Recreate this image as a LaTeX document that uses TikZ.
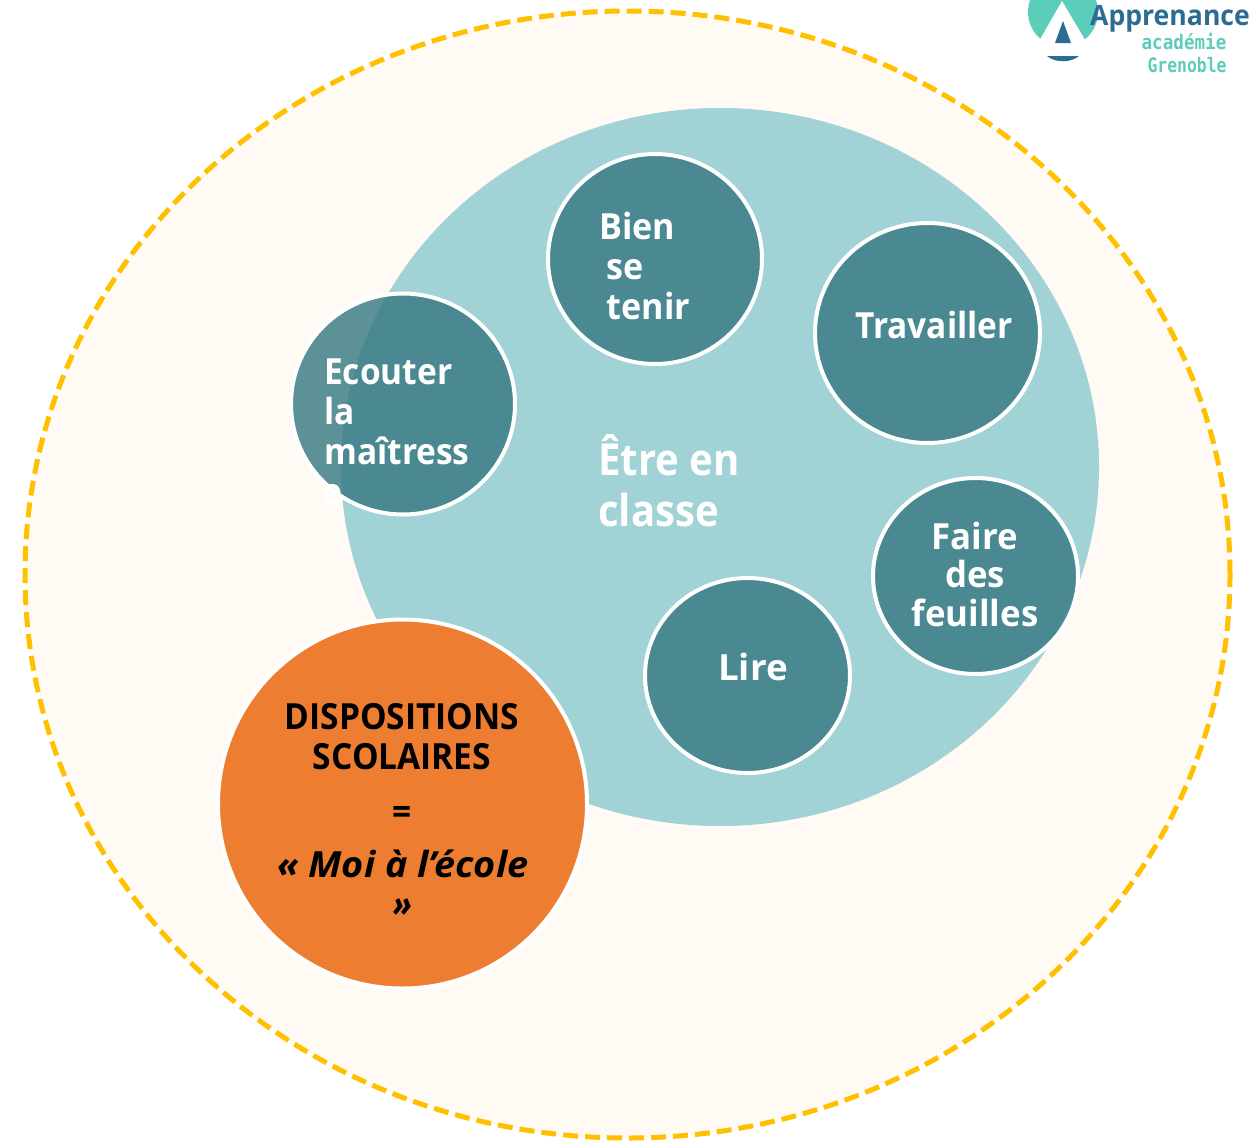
\documentclass[tikz,border=0pt]{standalone}
\usepackage{fontspec}
\setmainfont{Open Sans}
\newfontfamily\logofont{DejaVu Sans Mono}
\usetikzlibrary{shapes.geometric}
\definecolor{dashgold}{HTML}{FFC000}
\definecolor{creamback}{HTML}{FFFAF3}
\definecolor{paleteal}{HTML}{A1D2D5}
\definecolor{darkteal}{HTML}{357782}
\definecolor{dispoorange}{HTML}{ED7D31}
\definecolor{logogreen}{HTML}{5CCDB8}
\definecolor{logoblue}{HTML}{2B6C93}
\tikzset{
  blob/.style={ellipse,draw=white,line width=4pt,fill=darkteal,fill opacity=0.8,inner sep=0pt},
  word/.style={text=white,font=\fontsize{36}{39}\selectfont\bfseries,align=left,inner sep=0pt,anchor=north west,xscale=0.93}
}
\begin{document}
\begin{tikzpicture}[x=1pt,y=-1pt]
  \useasboundingbox (0,0) rectangle (1250,1144);
  \node[ellipse,draw=dashgold,fill=creamback,line width=5pt,dashed,dash pattern=on 15pt off 7pt,minimum width=1205pt,minimum height=1127pt,inner sep=0pt] (outer) at (627.5,574.5) {};
  \node[ellipse,fill=paleteal,minimum width=758pt,minimum height=718pt,inner sep=0pt] (classe) at (720,467) {};
  \node[blob,minimum width=214pt,minimum height=210pt] (tenir) at (655,259) {};
  \node[blob,minimum width=225pt,minimum height=220pt] (travail) at (927.5,333) {};
  \node[blob,minimum width=205pt,minimum height=196pt] (feuilles) at (975.5,576) {};
  \node[blob,minimum width=205pt,minimum height=195pt] (lire) at (747.5,675.5) {};
  \node[blob,minimum width=224pt,minimum height=221pt] (ecouter) at (403,404) {};
  \node[circle,draw=white,line width=4pt,fill=dispoorange,minimum size=369pt,inner sep=0pt] (dispo) at (402.5,804) {};
  % textes
  \node[word,xscale=0.98,font=\fontsize{44}{51}\selectfont\bfseries] (etre) at (598,434) {Être en\\classe};
  \node[word,xscale=1.02] (tenirtxt) at (599,212) {Bien\\[1pt]\hspace{8pt}se\\[1pt]\hspace{8pt}tenir};
  \node[word,anchor=center] (travailtxt) at (934,325) {Travailler};
  \node[word,align=center,anchor=center,xscale=1.04] (feuillestxt) at (975,574) {Faire\\[-1pt]des\\feuilles};
  \node[word,anchor=center,xscale=1.1] (liretxt) at (753,667) {Lire};
  \node[word] (ecoutertxt) at (324,359) {Ecouter\\[1pt]la\\[1pt]maîtress};
  \node[word,anchor=center] (ecoutere) at (332,495) {e};
  \node[word,text=black,align=center,anchor=center] (dispotxt) at (402,737) {DISPOSITIONS\\[1pt]SCOLAIRES};
  \node[word,text=black,anchor=center] (egal) at (402,815) {=};
  \node[word,text=black,font=\fontsize{36}{40}\selectfont\bfseries\itshape,anchor=center,xscale=1.13] (moi) at (403,864) {« Moi à l’école};
  \node[word,text=black,font=\fontsize{36}{40}\selectfont\bfseries\itshape,anchor=center] (guillemet) at (403,908) {»};
  % logo
  \begin{scope}
    \clip (1000,0) rectangle (1250,90);
    \fill[logogreen] (1063,12) circle (35);
    \fill[white] (1062,1) -- (1034,50) -- (1091,50) -- cycle;
    \fill[logoblue] (1063,21) -- (1055,43) -- (1071,43) -- cycle;
    \fill[logoblue] (1047,56) .. controls (1055,63) and (1071,63) .. (1079,56) -- cycle;
  \end{scope}
  \node[text=logoblue,font=\fontsize{28}{28}\selectfont\bfseries,inner sep=0pt,xscale=0.95] (apprenance) at (1170,19) {Apprenance};
  \node[text=logogreen,font=\logofont\fontsize{20}{20}\selectfont\bfseries,inner sep=0pt,xscale=0.88] (academie) at (1184,42) {académie};
  \node[text=logogreen,font=\logofont\fontsize{20}{20}\selectfont\bfseries,inner sep=0pt,xscale=0.82] (grenoble) at (1187,65) {Grenoble};
\end{tikzpicture}
\end{document}
